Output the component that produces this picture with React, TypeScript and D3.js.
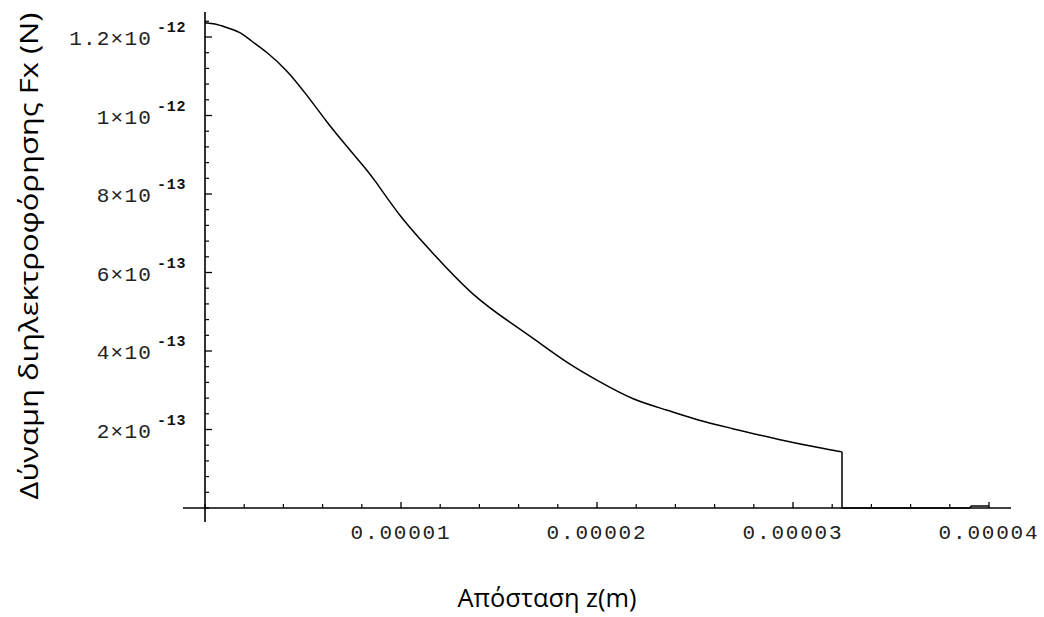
import React from "react";
import * as d3 from "d3";

const zValues = [0, 5.1e-7, 1.02e-6, 1.79e-6, 2.3e-6, 3.16e-6, 4.18e-6, 5.2e-6, 6.22e-6, 7.04e-6, 7.81e-6, 8.57e-6, 9.95e-6, 1.148e-5, 1.367e-5, 1.592e-5, 1.673e-5, 1.847e-5, 2.015e-5, 2.184e-5, 2.357e-5, 2.51e-5, 2.679e-5, 2.934e-5, 3.189e-5, 3.25e-5, 3.25e-5, 3.9e-5, 3.91e-5, 4.0e-5];
const forceValues = [1.236e-12, 1.234e-12, 1.2256e-12, 1.213e-12, 1.192e-12, 1.162e-12, 1.116e-12, 1.052e-12, 0.983e-12, 0.933e-12, 0.887e-12, 0.843e-12, 0.741e-12, 0.657e-12, 0.538e-12, 0.461e-12, 0.433e-12, 0.369e-12, 0.321e-12, 0.275e-12, 0.25e-12, 0.224e-12, 0.204e-12, 0.173e-12, 0.148e-12, 0.143e-12, 0, 0, 5e-15, 5e-15];

const xMajorTicks = [1e-5, 2e-5, 3e-5, 4e-5];
const xTickLabels = ["0.00001", "0.00002", "0.00003", "0.00004"];
const yMajorTicks = [2e-13, 4e-13, 6e-13, 8e-13, 1e-12, 1.2e-12];
const yTickMantissa = ["2", "4", "6", "8", "1", "1.2"];
const yTickExponent = ["-13", "-13", "-13", "-13", "-12", "-12"];

const xTitle = "Απόσταση z(m)";
const yTitle = "Δύναμη διηλεκτροφόρησης Fx (N)";

export default function App() {
  const width = 1044;
  const height = 617;
  const x = d3.scaleLinear().domain([0, 4e-5]).range([205, 989]);
  const y = d3.scaleLinear().domain([0, 1.2e-12]).range([508, 37]);

  const xMinor = d3.range(0, 21).map((i) => i * 2e-6).filter((v) => !xMajorTicks.some((m) => Math.abs(m - v) < 1e-9));
  const yMinor = d3.range(0, 32).map((i) => i * 4e-14).filter((v) => !yMajorTicks.some((m) => Math.abs(m - v) < 1e-16));

  const pts = zValues.map((z, i) => [z, forceValues[i]] as [number, number]);
  const dropIdx = 25;
  const smoothPart = pts.slice(0, dropIdx + 1);
  const tailPart = pts.slice(dropIdx);

  const smoothLine = d3
    .line<[number, number]>()
    .x((d) => x(d[0]))
    .y((d) => y(d[1]))
    .curve(d3.curveBasis);
  const tailLine = d3
    .line<[number, number]>()
    .x((d) => x(d[0]))
    .y((d) => y(d[1]));

  const monoFont = "'Liberation Mono', 'DejaVu Sans Mono', monospace";
  const sansFont = "'Open Sans', 'Noto Sans', sans-serif";
  const x0 = x(0);
  const y0 = y(0);

  return (
    <svg width={width} height={height} style={{ position: "absolute", left: 0, top: 0, background: "#fff" }}>
      {/* axes */}
      <line x1={183} x2={1011} y1={y0} y2={y0} stroke="#000" strokeWidth={1.6} />
      <line x1={x0} x2={x0} y1={12} y2={522} stroke="#000" strokeWidth={1.6} />
      {/* x ticks */}
      {xMajorTicks.map((t, i) => (
        <g key={"xm" + i}>
          <line x1={x(t)} x2={x(t)} y1={y0} y2={y0 - 6} stroke="#000" strokeWidth={1.3} />
          <text x={x(t)} y={539} textAnchor="middle" fontFamily={monoFont} fontSize={21} letterSpacing={1.8} fill="#222">
            {xTickLabels[i]}
          </text>
        </g>
      ))}
      {xMinor.map((t, i) => (
        <line key={"xn" + i} x1={x(t)} x2={x(t)} y1={y0} y2={y0 - 4} stroke="#000" strokeWidth={1.2} />
      ))}
      {/* y ticks */}
      {yMajorTicks.map((t, i) => (
        <g key={"ym" + i}>
          <line x1={x0} x2={x0 + 7} y1={y(t)} y2={y(t)} stroke="#000" strokeWidth={1.3} />
          <text x={152} y={y(t) + 8} textAnchor="end" fontFamily={monoFont} fontSize={21} letterSpacing={1.2} fill="#222">
            {yTickMantissa[i] + "×10"}
          </text>
          <text x={157} y={y(t) - 5} textAnchor="start" fontFamily={monoFont} fontSize={15} fontWeight="bold" letterSpacing={0.8} fill="#111">
            {yTickExponent[i]}
          </text>
        </g>
      ))}
      {yMinor.map((t, i) => (
        <line key={"yn" + i} x1={x0} x2={x0 + 4} y1={y(t)} y2={y(t)} stroke="#000" strokeWidth={1.2} />
      ))}
      {/* curve */}
      <path d={smoothLine(smoothPart) || ""} fill="none" stroke="#000" strokeWidth={1.5} />
      <path d={tailLine(tailPart) || ""} fill="none" stroke="#000" strokeWidth={1.5} />
      {/* titles */}
      <text x={547} y={607} textAnchor="middle" fontFamily={sansFont} fontSize={26} textLength={179} lengthAdjust="spacingAndGlyphs" fill="#000">
        {xTitle}
      </text>
      <text transform="translate(38,256) rotate(-90)" textAnchor="middle" fontFamily={sansFont} fontSize={26} textLength={487} lengthAdjust="spacingAndGlyphs" fill="#000">
        {yTitle}
      </text>
    </svg>
  );
}
